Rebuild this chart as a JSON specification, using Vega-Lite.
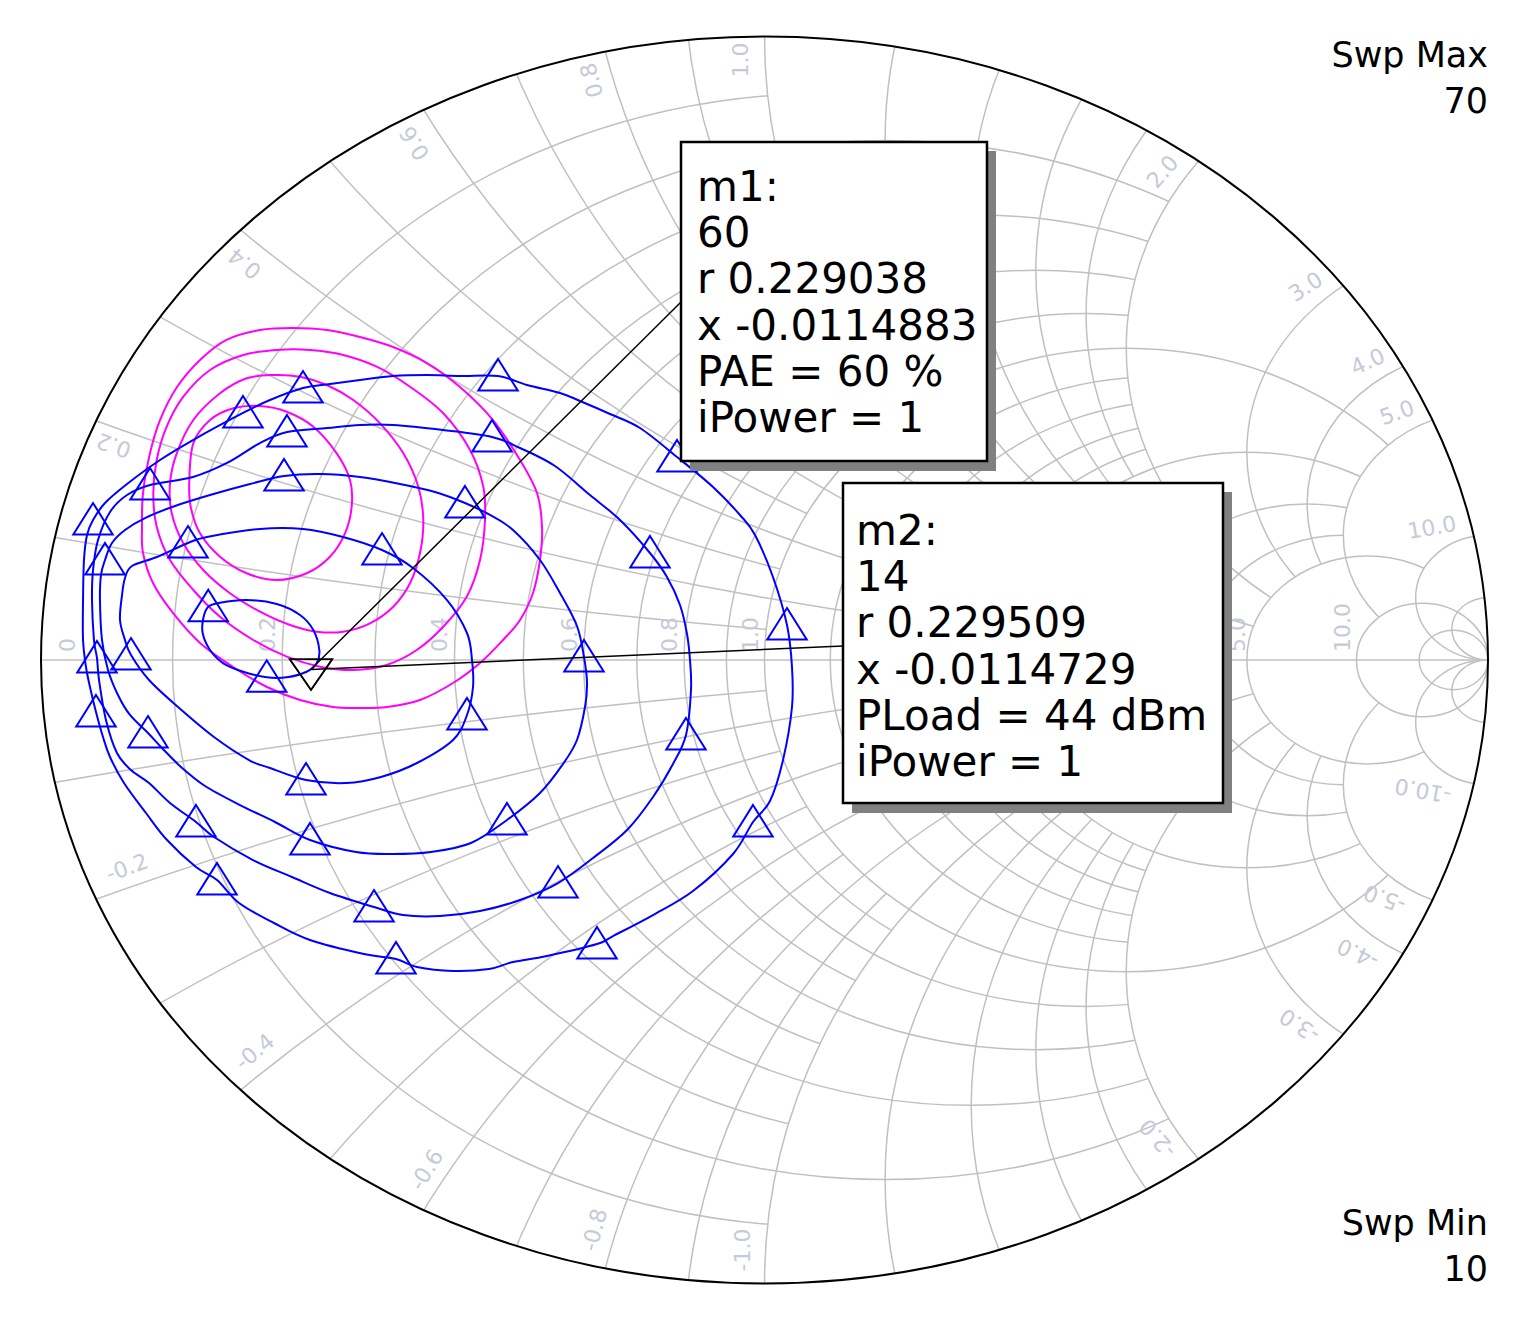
{
"$schema": "https://vega.github.io/schema/vega-lite/v6.json",
"width": 1522, "height": 1318, "autosize": "none", "padding": 0, "background": "white",
"config": {"view": {"stroke": null}},
"datasets": {
"grid": [
{"lv":"g1","gr":0.09091,"gi":0,"rad":0.90909},{"lv":"g1","gr":0.23077,"gi":0,"rad":0.76923},{"lv":"g1","gr":0.33333,"gi":0,"rad":0.66667},{"lv":"g1","gr":0.41176,"gi":0,"rad":0.58824},{"lv":"g1","gr":0.47368,"gi":0,"rad":0.52632},
{"lv":"g1","gr":1,"gi":10,"rad":10},{"lv":"g1","gr":1,"gi":-10,"rad":10},{"lv":"g1","gr":1,"gi":3.33333,"rad":3.33333},{"lv":"g1","gr":1,"gi":-3.33333,"rad":3.33333},{"lv":"g1","gr":1,"gi":2,"rad":2},{"lv":"g1","gr":1,"gi":-2,"rad":2},{"lv":"g1","gr":1,"gi":1.42857,"rad":1.42857},{"lv":"g1","gr":1,"gi":-1.42857,"rad":1.42857},{"lv":"g1","gr":1,"gi":1.11111,"rad":1.11111},{"lv":"g1","gr":1,"gi":-1.11111,"rad":1.11111},
{"lv":"k1","gr":0.5,"gi":0,"rad":0.5},{"lv":"k1","gr":1,"gi":1,"rad":1},{"lv":"k1","gr":1,"gi":-1,"rad":1},
{"lv":"g2","gr":0.16667,"gi":0,"rad":0.83333},{"lv":"g2","gr":0.28571,"gi":0,"rad":0.71429},{"lv":"g2","gr":0.375,"gi":0,"rad":0.625},{"lv":"g2","gr":0.44444,"gi":0,"rad":0.55556},{"lv":"g2","gr":0.54545,"gi":0,"rad":0.45455},{"lv":"g2","gr":0.58333,"gi":0,"rad":0.41667},{"lv":"g2","gr":0.61538,"gi":0,"rad":0.38462},{"lv":"g2","gr":0.64286,"gi":0,"rad":0.35714},
{"lv":"g2","gr":1,"gi":5,"rad":5},{"lv":"g2","gr":1,"gi":-5,"rad":5},{"lv":"g2","gr":1,"gi":2.5,"rad":2.5},{"lv":"g2","gr":1,"gi":-2.5,"rad":2.5},{"lv":"g2","gr":1,"gi":1.66667,"rad":1.66667},{"lv":"g2","gr":1,"gi":-1.66667,"rad":1.66667},{"lv":"g2","gr":1,"gi":1.25,"rad":1.25},{"lv":"g2","gr":1,"gi":-1.25,"rad":1.25},{"lv":"g2","gr":1,"gi":0.83333,"rad":0.83333},{"lv":"g2","gr":1,"gi":-0.83333,"rad":0.83333},{"lv":"g2","gr":1,"gi":0.71429,"rad":0.71429},{"lv":"g2","gr":1,"gi":-0.71429,"rad":0.71429},{"lv":"g2","gr":1,"gi":0.625,"rad":0.625},{"lv":"g2","gr":1,"gi":-0.625,"rad":0.625},{"lv":"g2","gr":1,"gi":0.55556,"rad":0.55556},{"lv":"g2","gr":1,"gi":-0.55556,"rad":0.55556},
{"lv":"k2","gr":0.66667,"gi":0,"rad":0.33333},{"lv":"k2","gr":1,"gi":0.5,"rad":0.5},{"lv":"k2","gr":1,"gi":-0.5,"rad":0.5},
{"lv":"g3","gr":0.5,"gi":0,"rad":0.5},{"lv":"g3","gr":0.66667,"gi":0,"rad":0.33333},{"lv":"g3","gr":0.75,"gi":0,"rad":0.25},{"lv":"g3","gr":0.8,"gi":0,"rad":0.2},{"lv":"g3","gr":1,"gi":1,"rad":1},{"lv":"g3","gr":1,"gi":-1,"rad":1},{"lv":"g3","gr":1,"gi":0.5,"rad":0.5},{"lv":"g3","gr":1,"gi":-0.5,"rad":0.5},{"lv":"g3","gr":1,"gi":0.33333,"rad":0.33333},{"lv":"g3","gr":1,"gi":-0.33333,"rad":0.33333},{"lv":"g3","gr":1,"gi":0.25,"rad":0.25},{"lv":"g3","gr":1,"gi":-0.25,"rad":0.25},
{"lv":"k3","gr":0.83333,"gi":0,"rad":0.16667},{"lv":"k3","gr":1,"gi":0.2,"rad":0.2},{"lv":"k3","gr":1,"gi":-0.2,"rad":0.2},
{"lv":"g4","gr":0.83333,"gi":0,"rad":0.16667},{"lv":"g4","gr":1,"gi":0.2,"rad":0.2},{"lv":"g4","gr":1,"gi":-0.2,"rad":0.2},
{"lv":"k4","gr":0.90909,"gi":0,"rad":0.09091},{"lv":"k4","gr":1,"gi":0.1,"rad":0.1},{"lv":"k4","gr":1,"gi":-0.1,"rad":0.1},
{"lv":"g5","gr":0.90909,"gi":0,"rad":0.09091},{"lv":"g5","gr":1,"gi":0.1,"rad":0.1},{"lv":"g5","gr":1,"gi":-0.1,"rad":0.1},{"lv":"g5","gr":0.95238,"gi":0,"rad":0.04762},{"lv":"g5","gr":1,"gi":0.05,"rad":0.05},{"lv":"g5","gr":1,"gi":-0.05,"rad":0.05}
],
"unit": [{"gr":0,"gi":0,"rad":1}],
"ax": [{"gr":-1,"gr2":1,"gi":0}],
"xl": [
{"gr":-0.8991,"gi":0.3448,"t":"0.2","xv":0.2},{"gr":-0.7180,"gi":0.6367,"t":"0.4","xv":0.4},{"gr":-0.4831,"gi":0.8292,"t":"0.6","xv":0.6},{"gr":-0.2384,"gi":0.9302,"t":"0.8","xv":0.8},{"gr":-0.0325,"gi":0.9623,"t":"1.0","xv":1},{"gr":0.5508,"gi":0.7827,"t":"2.0","xv":2},{"gr":0.7484,"gi":0.5982,"t":"3.0","xv":3},{"gr":0.8341,"gi":0.4779,"t":"4.0","xv":4},{"gr":0.8742,"gi":0.3961,"t":"5.0","xv":5},{"gr":0.9226,"gi":0.2117,"t":"10.0","xv":10},
{"gr":-0.8811,"gi":-0.3336,"t":"-0.2","xv":-0.2},{"gr":-0.7042,"gi":-0.6287,"t":"-0.4","xv":-0.4},{"gr":-0.4665,"gi":-0.8180,"t":"-0.6","xv":-0.6},{"gr":-0.2343,"gi":-0.9142,"t":"-0.8","xv":-0.8},{"gr":-0.0297,"gi":-0.9463,"t":"-1.0","xv":-1},{"gr":0.5439,"gi":-0.7666,"t":"-2.0","xv":-2},{"gr":0.7401,"gi":-0.5854,"t":"-3.0","xv":-3},{"gr":0.8203,"gi":-0.4699,"t":"-4.0","xv":-4},{"gr":0.8576,"gi":-0.3817,"t":"-5.0","xv":-5},{"gr":0.9102,"gi":-0.2085,"t":"-10.0","xv":-10}
],
"rl": [
{"gr":-0.9627,"gi":0.0128,"t":"0"},{"gr":-0.6862,"gi":0.0128,"t":"0.2"},{"gr":-0.4485,"gi":0.0128,"t":"0.4"},{"gr":-0.2688,"gi":0.0128,"t":"0.6"},{"gr":-0.1306,"gi":0.0128,"t":"0.8"},{"gr":-0.0187,"gi":0.0128,"t":"1.0"},{"gr":0.3172,"gi":0.0128,"t":"2.0"},{"gr":0.4830,"gi":0.0128,"t":"3.0"},{"gr":0.5840,"gi":0.0128,"t":"4.0"},{"gr":0.6545,"gi":0.0128,"t":"5.0"},{"gr":0.7996,"gi":0.0128,"t":"10.0"}
],
"pae": [
{"c":"M1","i":0,"gr":-0.7443,"gi":0.5132},{"c":"M1","i":1,"gr":-0.6973,"gi":0.5293},{"c":"M1","i":2,"gr":-0.6517,"gi":0.5325},{"c":"M1","i":3,"gr":-0.6047,"gi":0.5293},{"c":"M1","i":4,"gr":-0.5591,"gi":0.5180},{"c":"M1","i":5,"gr":-0.5135,"gi":0.5020},{"c":"M1","i":6,"gr":-0.4665,"gi":0.4763},{"c":"M1","i":7,"gr":-0.4209,"gi":0.4378},{"c":"M1","i":8,"gr":-0.3753,"gi":0.3849},{"c":"M1","i":9,"gr":-0.3379,"gi":0.3208},{"c":"M1","i":10,"gr":-0.3144,"gi":0.2678},{"c":"M1","i":11,"gr":-0.3075,"gi":0.2133},{"c":"M1","i":12,"gr":-0.3103,"gi":0.1604},{"c":"M1","i":13,"gr":-0.3200,"gi":0.1075},{"c":"M1","i":14,"gr":-0.3379,"gi":0.0642},{"c":"M1","i":15,"gr":-0.3614,"gi":0.0321},{"c":"M1","i":16,"gr":-0.3932,"gi":-0.0048},{"c":"M1","i":17,"gr":-0.4305,"gi":-0.0369},{"c":"M1","i":18,"gr":-0.4762,"gi":-0.0642},{"c":"M1","i":19,"gr":-0.5218,"gi":-0.0754},{"c":"M1","i":20,"gr":-0.5591,"gi":-0.0770},{"c":"M1","i":21,"gr":-0.5964,"gi":-0.0754},{"c":"M1","i":22,"gr":-0.6420,"gi":-0.0642},{"c":"M1","i":23,"gr":-0.6876,"gi":-0.0433},{"c":"M1","i":24,"gr":-0.7346,"gi":-0.0112},{"c":"M1","i":25,"gr":-0.7802,"gi":0.0273},{"c":"M1","i":26,"gr":-0.8176,"gi":0.0754},{"c":"M1","i":27,"gr":-0.8452,"gi":0.1235},{"c":"M1","i":28,"gr":-0.8590,"gi":0.1716},{"c":"M1","i":29,"gr":-0.8604,"gi":0.2133},{"c":"M1","i":30,"gr":-0.8590,"gi":0.2678},{"c":"M1","i":31,"gr":-0.8493,"gi":0.3320},{"c":"M1","i":32,"gr":-0.8355,"gi":0.3849},{"c":"M1","i":33,"gr":-0.8120,"gi":0.4378},{"c":"M1","i":34,"gr":-0.7802,"gi":0.4812},
{"c":"M2","i":0,"gr":-0.7664,"gi":0.4651},{"c":"M2","i":1,"gr":-0.7204,"gi":0.4892},{"c":"M2","i":2,"gr":-0.6742,"gi":0.4972},{"c":"M2","i":3,"gr":-0.6282,"gi":0.4972},{"c":"M2","i":4,"gr":-0.5822,"gi":0.4892},{"c":"M2","i":5,"gr":-0.5360,"gi":0.4704},{"c":"M2","i":6,"gr":-0.4900,"gi":0.4383},{"c":"M2","i":7,"gr":-0.4440,"gi":0.3957},{"c":"M2","i":8,"gr":-0.4070,"gi":0.3368},{"c":"M2","i":9,"gr":-0.3887,"gi":0.2779},{"c":"M2","i":10,"gr":-0.3863,"gi":0.2245},{"c":"M2","i":11,"gr":-0.3932,"gi":0.1604},{"c":"M2","i":12,"gr":-0.4116,"gi":0.1015},{"c":"M2","i":13,"gr":-0.4440,"gi":0.0534},{"c":"M2","i":14,"gr":-0.4807,"gi":0.0160},{"c":"M2","i":15,"gr":-0.5222,"gi":-0.0080},{"c":"M2","i":16,"gr":-0.5684,"gi":-0.0160},{"c":"M2","i":17,"gr":-0.6144,"gi":-0.0107},{"c":"M2","i":18,"gr":-0.6604,"gi":0.0053},{"c":"M2","i":19,"gr":-0.7066,"gi":0.0321},{"c":"M2","i":20,"gr":-0.7526,"gi":0.0694},{"c":"M2","i":21,"gr":-0.7895,"gi":0.1123},{"c":"M2","i":22,"gr":-0.8217,"gi":0.1604},{"c":"M2","i":23,"gr":-0.8401,"gi":0.2138},{"c":"M2","i":24,"gr":-0.8448,"gi":0.2674},{"c":"M2","i":25,"gr":-0.8401,"gi":0.3208},{"c":"M2","i":26,"gr":-0.8263,"gi":0.3742},{"c":"M2","i":27,"gr":-0.8033,"gi":0.4223},
{"c":"M3","i":0,"gr":-0.7895,"gi":0.3849},{"c":"M3","i":1,"gr":-0.7526,"gi":0.4277},{"c":"M3","i":2,"gr":-0.7157,"gi":0.4518},{"c":"M3","i":3,"gr":-0.6789,"gi":0.4571},{"c":"M3","i":4,"gr":-0.6420,"gi":0.4544},{"c":"M3","i":5,"gr":-0.6051,"gi":0.4411},{"c":"M3","i":6,"gr":-0.5684,"gi":0.4170},{"c":"M3","i":7,"gr":-0.5314,"gi":0.3796},{"c":"M3","i":8,"gr":-0.4992,"gi":0.3315},{"c":"M3","i":9,"gr":-0.4785,"gi":0.2779},{"c":"M3","i":10,"gr":-0.4716,"gi":0.2245},{"c":"M3","i":11,"gr":-0.4762,"gi":0.1711},{"c":"M3","i":12,"gr":-0.4900,"gi":0.1230},{"c":"M3","i":13,"gr":-0.5131,"gi":0.0855},{"c":"M3","i":14,"gr":-0.5453,"gi":0.0589},{"c":"M3","i":15,"gr":-0.5822,"gi":0.0454},{"c":"M3","i":16,"gr":-0.6189,"gi":0.0454},{"c":"M3","i":17,"gr":-0.6558,"gi":0.0561},{"c":"M3","i":18,"gr":-0.6973,"gi":0.0775},{"c":"M3","i":19,"gr":-0.7388,"gi":0.1070},{"c":"M3","i":20,"gr":-0.7757,"gi":0.1443},{"c":"M3","i":21,"gr":-0.8033,"gi":0.1872},{"c":"M3","i":22,"gr":-0.8193,"gi":0.2353},{"c":"M3","i":23,"gr":-0.8217,"gi":0.2834},{"c":"M3","i":24,"gr":-0.8124,"gi":0.3315},
{"c":"M4","i":0,"gr":-0.7895,"gi":0.3475},{"c":"M4","i":1,"gr":-0.7664,"gi":0.3849},{"c":"M4","i":2,"gr":-0.7342,"gi":0.4037},{"c":"M4","i":3,"gr":-0.6973,"gi":0.4074},{"c":"M4","i":4,"gr":-0.6604,"gi":0.3982},{"c":"M4","i":5,"gr":-0.6236,"gi":0.3742},{"c":"M4","i":6,"gr":-0.5913,"gi":0.3315},{"c":"M4","i":7,"gr":-0.5729,"gi":0.2887},{"c":"M4","i":8,"gr":-0.5706,"gi":0.2459},{"c":"M4","i":9,"gr":-0.5798,"gi":0.2032},{"c":"M4","i":10,"gr":-0.6006,"gi":0.1657},{"c":"M4","i":11,"gr":-0.6328,"gi":0.1391},{"c":"M4","i":12,"gr":-0.6742,"gi":0.1283},{"c":"M4","i":13,"gr":-0.7157,"gi":0.1391},{"c":"M4","i":14,"gr":-0.7526,"gi":0.1657},{"c":"M4","i":15,"gr":-0.7802,"gi":0.2032},{"c":"M4","i":16,"gr":-0.7931,"gi":0.2459},{"c":"M4","i":17,"gr":-0.7950,"gi":0.2887}
],
"blue": [
{"c":"A","i":0,"gr":-0.7688,"gi":0.0855,"m":1},{"c":"A","i":1,"gr":-0.7526,"gi":0.0919,"m":0},{"c":"A","i":2,"gr":-0.7157,"gi":0.0962,"m":0},{"c":"A","i":3,"gr":-0.6742,"gi":0.0898,"m":0},{"c":"A","i":4,"gr":-0.6420,"gi":0.0722,"m":0},{"c":"A","i":5,"gr":-0.6236,"gi":0.0481,"m":0},{"c":"A","i":6,"gr":-0.6153,"gi":0.0160,"m":0},{"c":"A","i":7,"gr":-0.6189,"gi":-0.0053,"m":0},{"c":"A","i":8,"gr":-0.6328,"gi":-0.0188,"m":0},{"c":"A","i":9,"gr":-0.6604,"gi":-0.0277,"m":0},{"c":"A","i":10,"gr":-0.6880,"gi":-0.0277,"m":1},{"c":"A","i":11,"gr":-0.7204,"gi":-0.0188,"m":0},{"c":"A","i":12,"gr":-0.7480,"gi":-0.0053,"m":0},{"c":"A","i":13,"gr":-0.7664,"gi":0.0160,"m":0},{"c":"A","i":14,"gr":-0.7765,"gi":0.0428,"m":0},{"c":"A","i":15,"gr":-0.7757,"gi":0.0669,"m":0},
{"c":"B","i":0,"gr":-0.8908,"gi":0.0642,"m":0},{"c":"B","i":1,"gr":-0.8880,"gi":0.1042,"m":0},{"c":"B","i":2,"gr":-0.8839,"gi":0.1315,"m":0},{"c":"B","i":3,"gr":-0.8742,"gi":0.1508,"m":0},{"c":"B","i":4,"gr":-0.8397,"gi":0.1652,"m":0},{"c":"B","i":5,"gr":-0.7968,"gi":0.1876,"m":1},{"c":"B","i":6,"gr":-0.7706,"gi":0.1973,"m":0},{"c":"B","i":7,"gr":-0.6973,"gi":0.2101,"m":0},{"c":"B","i":8,"gr":-0.6379,"gi":0.2101,"m":0},{"c":"B","i":9,"gr":-0.5826,"gi":0.1973,"m":0},{"c":"B","i":10,"gr":-0.5287,"gi":0.1764,"m":1},{"c":"B","i":11,"gr":-0.4858,"gi":0.1476,"m":0},{"c":"B","i":12,"gr":-0.4388,"gi":0.0962,"m":0},{"c":"B","i":13,"gr":-0.4112,"gi":0.0433,"m":0},{"c":"B","i":14,"gr":-0.4043,"gi":0,"m":0},{"c":"B","i":15,"gr":-0.4029,"gi":-0.0433,"m":0},{"c":"B","i":16,"gr":-0.4112,"gi":-0.0882,"m":1},{"c":"B","i":17,"gr":-0.4305,"gi":-0.1283,"m":0},{"c":"B","i":18,"gr":-0.4803,"gi":-0.1652,"m":0},{"c":"B","i":19,"gr":-0.5301,"gi":-0.1876,"m":0},{"c":"B","i":20,"gr":-0.5784,"gi":-0.1973,"m":0},{"c":"B","i":21,"gr":-0.6337,"gi":-0.1925,"m":1},{"c":"B","i":22,"gr":-0.6835,"gi":-0.1732,"m":0},{"c":"B","i":23,"gr":-0.7125,"gi":-0.1604,"m":0},{"c":"B","i":24,"gr":-0.7609,"gi":-0.1235,"m":0},{"c":"B","i":25,"gr":-0.8106,"gi":-0.0754,"m":0},{"c":"B","i":26,"gr":-0.8507,"gi":-0.0321,"m":0},{"c":"B","i":27,"gr":-0.8756,"gi":0.0080,"m":1},{"c":"B","i":28,"gr":-0.8839,"gi":0.0321,"m":0},
{"c":"C","i":0,"gr":-0.9185,"gi":0.0962,"m":0},{"c":"C","i":1,"gr":-0.9171,"gi":0.1363,"m":0},{"c":"C","i":2,"gr":-0.9115,"gi":0.1604,"m":1},{"c":"C","i":3,"gr":-0.9019,"gi":0.1876,"m":0},{"c":"C","i":4,"gr":-0.8839,"gi":0.2085,"m":0},{"c":"C","i":5,"gr":-0.8563,"gi":0.2277,"m":0},{"c":"C","i":6,"gr":-0.8148,"gi":0.2470,"m":0},{"c":"C","i":7,"gr":-0.7664,"gi":0.2646,"m":0},{"c":"C","i":8,"gr":-0.7111,"gi":0.2823,"m":0},{"c":"C","i":9,"gr":-0.6641,"gi":0.2951,"m":1},{"c":"C","i":10,"gr":-0.6144,"gi":0.2983,"m":0},{"c":"C","i":11,"gr":-0.5591,"gi":0.2935,"m":0},{"c":"C","i":12,"gr":-0.5038,"gi":0.2823,"m":0},{"c":"C","i":13,"gr":-0.4554,"gi":0.2694,"m":0},{"c":"C","i":14,"gr":-0.4140,"gi":0.2518,"m":1},{"c":"C","i":15,"gr":-0.3794,"gi":0.2326,"m":0},{"c":"C","i":16,"gr":-0.3476,"gi":0.2085,"m":0},{"c":"C","i":17,"gr":-0.3103,"gi":0.1604,"m":0},{"c":"C","i":18,"gr":-0.2827,"gi":0.1075,"m":0},{"c":"C","i":19,"gr":-0.2592,"gi":0.0545,"m":0},{"c":"C","i":20,"gr":-0.2495,"gi":0.0048,"m":1},{"c":"C","i":21,"gr":-0.2453,"gi":-0.0369,"m":0},{"c":"C","i":22,"gr":-0.2481,"gi":-0.0754,"m":0},{"c":"C","i":23,"gr":-0.2592,"gi":-0.1283,"m":0},{"c":"C","i":24,"gr":-0.2785,"gi":-0.1668,"m":0},{"c":"C","i":25,"gr":-0.3103,"gi":-0.2133,"m":0},{"c":"C","i":26,"gr":-0.3559,"gi":-0.2566,"m":1},{"c":"C","i":27,"gr":-0.4057,"gi":-0.2935,"m":0},{"c":"C","i":28,"gr":-0.4610,"gi":-0.3079,"m":0},{"c":"C","i":29,"gr":-0.5149,"gi":-0.3111,"m":0},{"c":"C","i":30,"gr":-0.5646,"gi":-0.3079,"m":0},{"c":"C","i":31,"gr":-0.6282,"gi":-0.2887,"m":1},{"c":"C","i":32,"gr":-0.6766,"gi":-0.2598,"m":0},{"c":"C","i":33,"gr":-0.7250,"gi":-0.2326,"m":0},{"c":"C","i":34,"gr":-0.7733,"gi":-0.2021,"m":0},{"c":"C","i":35,"gr":-0.8065,"gi":-0.1716,"m":0},{"c":"C","i":36,"gr":-0.8328,"gi":-0.1411,"m":0},{"c":"C","i":37,"gr":-0.8521,"gi":-0.1171,"m":1},{"c":"C","i":38,"gr":-0.8770,"gi":-0.0882,"m":0},{"c":"C","i":39,"gr":-0.8936,"gi":-0.0561,"m":0},{"c":"C","i":40,"gr":-0.9074,"gi":-0.0160,"m":0},{"c":"C","i":41,"gr":-0.9157,"gi":0.0321,"m":0},
{"c":"D","i":0,"gr":-0.9268,"gi":0.0321,"m":0},{"c":"D","i":1,"gr":-0.9295,"gi":0.0962,"m":0},{"c":"D","i":2,"gr":-0.9281,"gi":0.1443,"m":0},{"c":"D","i":3,"gr":-0.9212,"gi":0.1925,"m":0},{"c":"D","i":4,"gr":-0.9046,"gi":0.2374,"m":0},{"c":"D","i":5,"gr":-0.8811,"gi":0.2646,"m":0},{"c":"D","i":6,"gr":-0.8493,"gi":0.2807,"m":1},{"c":"D","i":7,"gr":-0.7899,"gi":0.2935,"m":0},{"c":"D","i":8,"gr":-0.7429,"gi":0.3160,"m":0},{"c":"D","i":9,"gr":-0.6973,"gi":0.3480,"m":0},{"c":"D","i":10,"gr":-0.6600,"gi":0.3657,"m":1},{"c":"D","i":11,"gr":-0.6047,"gi":0.3721,"m":0},{"c":"D","i":12,"gr":-0.5591,"gi":0.3769,"m":0},{"c":"D","i":13,"gr":-0.5135,"gi":0.3769,"m":0},{"c":"D","i":14,"gr":-0.4444,"gi":0.3689,"m":0},{"c":"D","i":15,"gr":-0.3766,"gi":0.3577,"m":1},{"c":"D","i":16,"gr":-0.3379,"gi":0.3400,"m":0},{"c":"D","i":17,"gr":-0.2896,"gi":0.3111,"m":0},{"c":"D","i":18,"gr":-0.2412,"gi":0.2646,"m":0},{"c":"D","i":19,"gr":-0.1997,"gi":0.2245,"m":0},{"c":"D","i":20,"gr":-0.1583,"gi":0.1716,"m":1},{"c":"D","i":21,"gr":-0.1348,"gi":0.1331,"m":0},{"c":"D","i":22,"gr":-0.1168,"gi":0.0882,"m":0},{"c":"D","i":23,"gr":-0.1071,"gi":0.0417,"m":0},{"c":"D","i":24,"gr":-0.1030,"gi":0,"m":0},{"c":"D","i":25,"gr":-0.1016,"gi":-0.0481,"m":0},{"c":"D","i":26,"gr":-0.1085,"gi":-0.1203,"m":1},{"c":"D","i":27,"gr":-0.1265,"gi":-0.1668,"m":0},{"c":"D","i":28,"gr":-0.1541,"gi":-0.2197,"m":0},{"c":"D","i":29,"gr":-0.1900,"gi":-0.2727,"m":0},{"c":"D","i":30,"gr":-0.2370,"gi":-0.3176,"m":0},{"c":"D","i":31,"gr":-0.2854,"gi":-0.3577,"m":1},{"c":"D","i":32,"gr":-0.3379,"gi":-0.3849,"m":0},{"c":"D","i":33,"gr":-0.3932,"gi":-0.4026,"m":0},{"c":"D","i":34,"gr":-0.4485,"gi":-0.4106,"m":0},{"c":"D","i":35,"gr":-0.4997,"gi":-0.4090,"m":0},{"c":"D","i":36,"gr":-0.5397,"gi":-0.3962,"m":1},{"c":"D","i":37,"gr":-0.6006,"gi":-0.3737,"m":0},{"c":"D","i":38,"gr":-0.6531,"gi":-0.3480,"m":0},{"c":"D","i":39,"gr":-0.7070,"gi":-0.3208,"m":0},{"c":"D","i":40,"gr":-0.7609,"gi":-0.2839,"m":0},{"c":"D","i":41,"gr":-0.7858,"gi":-0.2598,"m":1},{"c":"D","i":42,"gr":-0.8217,"gi":-0.2293,"m":0},{"c":"D","i":43,"gr":-0.8507,"gi":-0.1973,"m":0},{"c":"D","i":44,"gr":-0.8756,"gi":-0.1764,"m":0},{"c":"D","i":45,"gr":-0.8950,"gi":-0.1492,"m":0},{"c":"D","i":46,"gr":-0.9102,"gi":-0.0962,"m":0},{"c":"D","i":47,"gr":-0.9198,"gi":-0.0321,"m":0},{"c":"D","i":48,"gr":-0.9226,"gi":0.0032,"m":1},
{"c":"E","i":0,"gr":-0.9281,"gi":0.2245,"m":1},{"c":"E","i":1,"gr":-0.9115,"gi":0.2518,"m":0},{"c":"E","i":2,"gr":-0.8811,"gi":0.2823,"m":0},{"c":"E","i":3,"gr":-0.8355,"gi":0.3208,"m":0},{"c":"E","i":4,"gr":-0.7899,"gi":0.3528,"m":0},{"c":"E","i":5,"gr":-0.7208,"gi":0.3962,"m":1},{"c":"E","i":6,"gr":-0.6835,"gi":0.4170,"m":0},{"c":"E","i":7,"gr":-0.6379,"gi":0.4362,"m":1},{"c":"E","i":8,"gr":-0.6006,"gi":0.4427,"m":0},{"c":"E","i":9,"gr":-0.5591,"gi":0.4491,"m":0},{"c":"E","i":10,"gr":-0.5135,"gi":0.4555,"m":0},{"c":"E","i":11,"gr":-0.4665,"gi":0.4571,"m":0},{"c":"E","i":12,"gr":-0.4209,"gi":0.4555,"m":0},{"c":"E","i":13,"gr":-0.3683,"gi":0.4555,"m":1},{"c":"E","i":14,"gr":-0.3283,"gi":0.4411,"m":0},{"c":"E","i":15,"gr":-0.2827,"gi":0.4282,"m":0},{"c":"E","i":16,"gr":-0.2550,"gi":0.4154,"m":0},{"c":"E","i":17,"gr":-0.2135,"gi":0.3945,"m":0},{"c":"E","i":18,"gr":-0.1721,"gi":0.3721,"m":0},{"c":"E","i":19,"gr":-0.1209,"gi":0.3256,"m":1},{"c":"E","i":20,"gr":-0.0712,"gi":0.2775,"m":0},{"c":"E","i":21,"gr":-0.0339,"gi":0.2326,"m":0},{"c":"E","i":22,"gr":-0.0131,"gi":0.2005,"m":0},{"c":"E","i":23,"gr":0.0117,"gi":0.1331,"m":0},{"c":"E","i":24,"gr":0.0311,"gi":0.0561,"m":1},{"c":"E","i":25,"gr":0.0380,"gi":-0.0112,"m":0},{"c":"E","i":26,"gr":0.0380,"gi":-0.0754,"m":0},{"c":"E","i":27,"gr":0.0256,"gi":-0.1604,"m":0},{"c":"E","i":28,"gr":0.0076,"gi":-0.2261,"m":0},{"c":"E","i":29,"gr":-0.0159,"gi":-0.2598,"m":1},{"c":"E","i":30,"gr":-0.0435,"gi":-0.3111,"m":0},{"c":"E","i":31,"gr":-0.0988,"gi":-0.3705,"m":0},{"c":"E","i":32,"gr":-0.1541,"gi":-0.4090,"m":0},{"c":"E","i":33,"gr":-0.2094,"gi":-0.4427,"m":0},{"c":"E","i":34,"gr":-0.2315,"gi":-0.4555,"m":1},{"c":"E","i":35,"gr":-0.3006,"gi":-0.4747,"m":0},{"c":"E","i":36,"gr":-0.3476,"gi":-0.4844,"m":0},{"c":"E","i":37,"gr":-0.3808,"gi":-0.4956,"m":0},{"c":"E","i":38,"gr":-0.4305,"gi":-0.4988,"m":0},{"c":"E","i":39,"gr":-0.4803,"gi":-0.4924,"m":0},{"c":"E","i":40,"gr":-0.5093,"gi":-0.4795,"m":1},{"c":"E","i":41,"gr":-0.5536,"gi":-0.4715,"m":0},{"c":"E","i":42,"gr":-0.6282,"gi":-0.4491,"m":0},{"c":"E","i":43,"gr":-0.6780,"gi":-0.4218,"m":0},{"c":"E","i":44,"gr":-0.7263,"gi":-0.3897,"m":0},{"c":"E","i":45,"gr":-0.7567,"gi":-0.3528,"m":1},{"c":"E","i":46,"gr":-0.7858,"gi":-0.3320,"m":0},{"c":"E","i":47,"gr":-0.8258,"gi":-0.2887,"m":0},{"c":"E","i":48,"gr":-0.8549,"gi":-0.2454,"m":0},{"c":"E","i":49,"gr":-0.8853,"gi":-0.1973,"m":0},{"c":"E","i":50,"gr":-0.9046,"gi":-0.1556,"m":0},{"c":"E","i":51,"gr":-0.9143,"gi":-0.1235,"m":0},{"c":"E","i":52,"gr":-0.9240,"gi":-0.0834,"m":1},{"c":"E","i":53,"gr":-0.9323,"gi":-0.0433,"m":0},{"c":"E","i":54,"gr":-0.9378,"gi":-0.0112,"m":0},{"c":"E","i":55,"gr":-0.9419,"gi":0.0321,"m":0},{"c":"E","i":56,"gr":-0.9419,"gi":0.0962,"m":0},{"c":"E","i":57,"gr":-0.9406,"gi":0.1604,"m":0},{"c":"E","i":58,"gr":-0.9364,"gi":0.2005,"m":0}
],
"mk": [{"gr":-0.6271,"gi":-0.0152},{"gr":-0.6265,"gi":-0.0152}],
"ld": [{"gr":-0.6271,"gi":-0.0152,"gr2":-0.1154,"gi2":0.5742},{"gr":-0.6265,"gi":-0.0152,"gr2":0.1085,"gi2":0.0225}],
"sh": [{"gr":-0.10297,"gr2":0.31997,"gi":0.81636,"gi2":0.30313},{"gr":0.12094,"gr2":0.64616,"gi":0.26945,"gi2":-0.24539}],
"bx": [{"gr":-0.11541,"gr2":0.30753,"gi":0.83079,"gi2":0.31917},{"gr":0.10850,"gr2":0.63372,"gi":0.28388,"gi2":-0.22935}],
"tx": [{"gr":-0.0933,"gi":0.7362,"t":"m1:\n60\nr 0.229038\nx -0.0114883\nPAE = 60 %\niPower = 1"},{"gr":0.12647,"gi":0.18444,"t":"m2:\n14\nr 0.229509\nx -0.0114729\nPLoad = 44 dBm\niPower = 1"}],
"sw": [{"gr":1.0,"gi":0.9511,"t":"Swp Max\n70"},{"gr":1.0,"gi":-0.9222,"t":"Swp Min\n10"}]
},
"encoding": {
"x": {"field":"gr","type":"quantitative","scale":{"domain":[-1.056669,1.046994],"nice":false,"zero":false},"axis":null},
"y": {"field":"gi","type":"quantitative","scale":{"domain":[-1.055333,1.05854],"nice":false,"zero":false},"axis":null}
},
"layer": [
{"data":{"name":"grid"},"transform":[{"filter":"datum.lv == 'g1'"}],"mark":{"type":"point","shape":"M 1.16038 0 C 1.16038 0.55228 0.64088 1 0 1 C -0.64088 1 -1.16038 0.55228 -1.16038 0 C -1.16038 -0.55228 -0.64088 -1 0 -1 C 0.64088 -1 1.16038 -0.55228 1.16038 0 Z","filled":false,"color":"#c0c0c0","strokeWidth":1.5,"opacity":1,"clip":true},"encoding":{"size":{"field":"rad","type":"quantitative","scale":{"type":"pow","exponent":2,"domain":[0,1],"range":[0,1555009]},"legend":null}}},
{"data":{"name":"grid"},"transform":[{"filter":"datum.lv == 'k1'"}],"mark":{"type":"point","shape":"M 1.16038 0 C 1.16038 0.55228 0.64088 1 0 1 C -0.64088 1 -1.16038 0.55228 -1.16038 0 C -1.16038 -0.55228 -0.64088 -1 0 -1 C 0.64088 -1 1.16038 -0.55228 1.16038 0 Z","filled":true,"color":"white","strokeWidth":0,"opacity":1,"clip":true},"encoding":{"size":{"field":"rad","type":"quantitative","scale":{"type":"pow","exponent":2,"domain":[0,1],"range":[0,1555009]},"legend":null}}},
{"data":{"name":"grid"},"transform":[{"filter":"datum.lv == 'g2'"}],"mark":{"type":"point","shape":"M 1.16038 0 C 1.16038 0.55228 0.64088 1 0 1 C -0.64088 1 -1.16038 0.55228 -1.16038 0 C -1.16038 -0.55228 -0.64088 -1 0 -1 C 0.64088 -1 1.16038 -0.55228 1.16038 0 Z","filled":false,"color":"#c0c0c0","strokeWidth":1.5,"opacity":1,"clip":true},"encoding":{"size":{"field":"rad","type":"quantitative","scale":{"type":"pow","exponent":2,"domain":[0,1],"range":[0,1555009]},"legend":null}}},
{"data":{"name":"grid"},"transform":[{"filter":"datum.lv == 'k2'"}],"mark":{"type":"point","shape":"M 1.16038 0 C 1.16038 0.55228 0.64088 1 0 1 C -0.64088 1 -1.16038 0.55228 -1.16038 0 C -1.16038 -0.55228 -0.64088 -1 0 -1 C 0.64088 -1 1.16038 -0.55228 1.16038 0 Z","filled":true,"color":"white","strokeWidth":0,"opacity":1,"clip":true},"encoding":{"size":{"field":"rad","type":"quantitative","scale":{"type":"pow","exponent":2,"domain":[0,1],"range":[0,1555009]},"legend":null}}},
{"data":{"name":"grid"},"transform":[{"filter":"datum.lv == 'g3'"}],"mark":{"type":"point","shape":"M 1.16038 0 C 1.16038 0.55228 0.64088 1 0 1 C -0.64088 1 -1.16038 0.55228 -1.16038 0 C -1.16038 -0.55228 -0.64088 -1 0 -1 C 0.64088 -1 1.16038 -0.55228 1.16038 0 Z","filled":false,"color":"#c0c0c0","strokeWidth":1.5,"opacity":1,"clip":true},"encoding":{"size":{"field":"rad","type":"quantitative","scale":{"type":"pow","exponent":2,"domain":[0,1],"range":[0,1555009]},"legend":null}}},
{"data":{"name":"grid"},"transform":[{"filter":"datum.lv == 'k3'"}],"mark":{"type":"point","shape":"M 1.16038 0 C 1.16038 0.55228 0.64088 1 0 1 C -0.64088 1 -1.16038 0.55228 -1.16038 0 C -1.16038 -0.55228 -0.64088 -1 0 -1 C 0.64088 -1 1.16038 -0.55228 1.16038 0 Z","filled":true,"color":"white","strokeWidth":0,"opacity":1,"clip":true},"encoding":{"size":{"field":"rad","type":"quantitative","scale":{"type":"pow","exponent":2,"domain":[0,1],"range":[0,1555009]},"legend":null}}},
{"data":{"name":"grid"},"transform":[{"filter":"datum.lv == 'g4'"}],"mark":{"type":"point","shape":"M 1.16038 0 C 1.16038 0.55228 0.64088 1 0 1 C -0.64088 1 -1.16038 0.55228 -1.16038 0 C -1.16038 -0.55228 -0.64088 -1 0 -1 C 0.64088 -1 1.16038 -0.55228 1.16038 0 Z","filled":false,"color":"#c0c0c0","strokeWidth":1.5,"opacity":1,"clip":true},"encoding":{"size":{"field":"rad","type":"quantitative","scale":{"type":"pow","exponent":2,"domain":[0,1],"range":[0,1555009]},"legend":null}}},
{"data":{"name":"grid"},"transform":[{"filter":"datum.lv == 'k4'"}],"mark":{"type":"point","shape":"M 1.16038 0 C 1.16038 0.55228 0.64088 1 0 1 C -0.64088 1 -1.16038 0.55228 -1.16038 0 C -1.16038 -0.55228 -0.64088 -1 0 -1 C 0.64088 -1 1.16038 -0.55228 1.16038 0 Z","filled":true,"color":"white","strokeWidth":0,"opacity":1,"clip":true},"encoding":{"size":{"field":"rad","type":"quantitative","scale":{"type":"pow","exponent":2,"domain":[0,1],"range":[0,1555009]},"legend":null}}},
{"data":{"name":"grid"},"transform":[{"filter":"datum.lv == 'g5'"}],"mark":{"type":"point","shape":"M 1.16038 0 C 1.16038 0.55228 0.64088 1 0 1 C -0.64088 1 -1.16038 0.55228 -1.16038 0 C -1.16038 -0.55228 -0.64088 -1 0 -1 C 0.64088 -1 1.16038 -0.55228 1.16038 0 Z","filled":false,"color":"#c0c0c0","strokeWidth":1.5,"opacity":1,"clip":true},"encoding":{"size":{"field":"rad","type":"quantitative","scale":{"type":"pow","exponent":2,"domain":[0,1],"range":[0,1555009]},"legend":null}}},
{"data":{"name":"ax"},"mark":{"type":"rule","color":"#c0c0c0","strokeWidth":1.5},"encoding":{"x2":{"field":"gr2"}}},
{"data":{"name":"unit"},"mark":{"type":"point","shape":"M -3 -3 L 3 -3 L 3 3 L -3 3 Z M 1.16038 0 C 1.16038 -0.55228 0.64088 -1 0 -1 C -0.64088 -1 -1.16038 -0.55228 -1.16038 0 C -1.16038 0.55228 -0.64088 1 0 1 C 0.64088 1 1.16038 0.55228 1.16038 0 Z","filled":true,"color":"white","strokeWidth":0,"opacity":1,"clip":true},"encoding":{"size":{"field":"rad","type":"quantitative","scale":{"type":"pow","exponent":2,"domain":[0,1],"range":[0,1555009]},"legend":null}}},
{"data":{"name":"unit"},"mark":{"type":"point","shape":"M 1.16038 0 C 1.16038 0.55228 0.64088 1 0 1 C -0.64088 1 -1.16038 0.55228 -1.16038 0 C -1.16038 -0.55228 -0.64088 -1 0 -1 C 0.64088 -1 1.16038 -0.55228 1.16038 0 Z","filled":false,"color":"black","strokeWidth":2,"opacity":1,"clip":true},"encoding":{"size":{"field":"rad","type":"quantitative","scale":{"type":"pow","exponent":2,"domain":[0,1],"range":[0,1555009]},"legend":null}}},
{"data":{"name":"xl"},"mark":{"type":"text","font":"DejaVu Sans","fontSize":22,"color":"#c5cad8","align":"center","baseline":"middle"},"encoding":{"text":{"field":"t","type":"nominal"},"angle":{"field":"xv","type":"quantitative","scale":{"type":"threshold","domain":[-7,-4.5,-3.5,-2.5,-1.5,-0.9,-0.7,-0.5,-0.3,0,0.3,0.5,0.7,0.9,1.5,2.5,3.5,4.5,7],"range":[-170.1,-160.25,-155.3,-147.1,-131,-90,-75.4,-58.25,-39.4,-19.75,-160.2,-140.6,-121.75,-104.6,-90,-48.97,-32.87,-24.68,-19.75,-9.88]}}}},
{"data":{"name":"rl"},"mark":{"type":"text","font":"DejaVu Sans","fontSize":22,"color":"#c5cad8","align":"left","baseline":"middle","angle":-90},"encoding":{"text":{"field":"t","type":"nominal"}}},
{"data":{"name":"pae"},"mark":{"type":"line","interpolate":"cardinal-closed","color":"#ff00ff","strokeWidth":2,"clip":true},"encoding":{"detail":{"field":"c","type":"nominal"},"order":{"field":"i","type":"quantitative"}}},
{"data":{"name":"blue"},"mark":{"type":"line","interpolate":"cardinal-closed","color":"#0000ff","strokeWidth":2,"clip":true},"encoding":{"detail":{"field":"c","type":"nominal"},"order":{"field":"i","type":"quantitative"}}},
{"data":{"name":"blue"},"transform":[{"filter":"datum.m == 1"}],"mark":{"type":"point","shape":"M 0 -1 L 1.16 0.85 L -1.16 0.85 Z","size":1156,"filled":false,"color":"#0000ff","strokeWidth":2,"opacity":1}},
{"data":{"name":"ld"},"mark":{"type":"rule","color":"black","strokeWidth":1.5},"encoding":{"x2":{"field":"gr2"},"y2":{"field":"gi2"}}},
{"data":{"name":"mk"},"mark":{"type":"point","shape":"M -1.25 -0.6 L 1.25 -0.6 L 0 1.2 Z","size":1156,"filled":false,"color":"black","strokeWidth":1.5,"opacity":1}},
{"data":{"name":"sh"},"mark":{"type":"rect","color":"#808080"},"encoding":{"x2":{"field":"gr2"},"y2":{"field":"gi2"}}},
{"data":{"name":"bx"},"mark":{"type":"rect","fill":"white","stroke":"black","strokeWidth":2.5},"encoding":{"x2":{"field":"gr2"},"y2":{"field":"gi2"}}},
{"data":{"name":"tx"},"mark":{"type":"text","font":"DejaVu Sans","fontSize":42,"color":"black","align":"left","baseline":"alphabetic","lineBreak":"\n","lineHeight":46.2},"encoding":{"text":{"field":"t","type":"nominal"}}},
{"data":{"name":"sw"},"mark":{"type":"text","font":"DejaVu Sans","fontSize":35,"color":"black","align":"right","baseline":"alphabetic","lineBreak":"\n","lineHeight":46},"encoding":{"text":{"field":"t","type":"nominal"}}}
]
}
